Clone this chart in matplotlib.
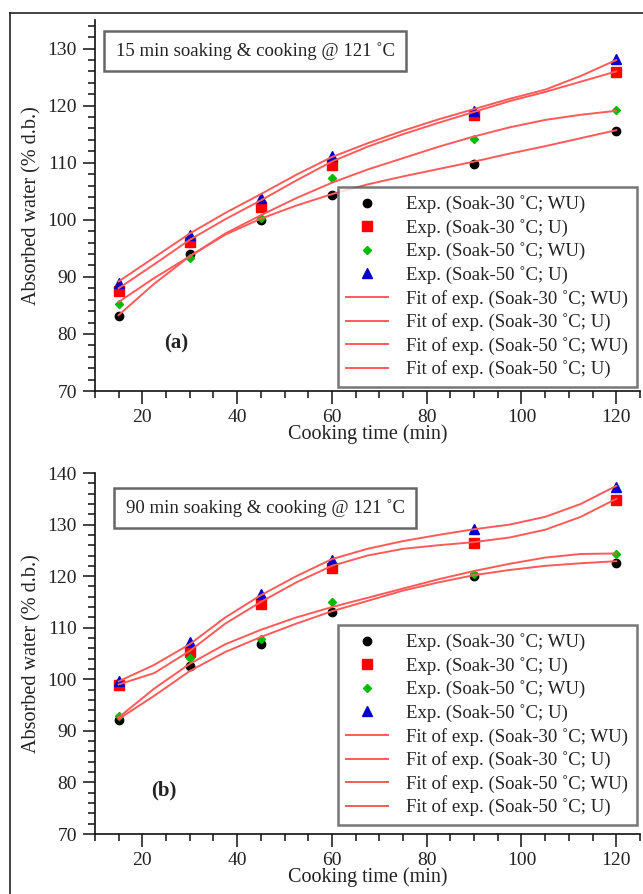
import matplotlib
matplotlib.use("Agg")
import matplotlib.pyplot as plt
from matplotlib.lines import Line2D
from matplotlib.ticker import MultipleLocator

plt.rcParams["font.family"] = ["Liberation Serif", "DejaVu Serif"]

# -------------------------
# datos experimentales
# -------------------------
t_exp = [15, 30, 45, 60, 90, 120]

# (a) 15 min remojo
a_wu30 = [83.1, 94.0, 100.0, 104.4, 109.8, 115.6]
a_u30 = [87.6, 96.1, 102.3, 109.6, 118.3, 125.9]
a_wu50 = [85.2, 93.3, 100.3, 107.4, 114.1, 119.2]
a_u50 = [88.9, 97.4, 103.8, 111.2, 119.1, 128.1]

# (b) 90 min remojo
b_wu30 = [92.1, 102.5, 106.9, 113.0, 120.0, 122.5]
b_u30 = [98.9, 105.3, 114.6, 121.6, 126.4, 134.8]
b_wu50 = [92.8, 104.1, 107.9, 115.0, 120.5, 124.3]
b_u50 = [99.7, 107.2, 116.5, 123.2, 129.1, 137.3]

# curvas de ajuste
t_fit = [15, 22.5, 30, 37.5, 45, 52.5, 60, 67.5, 75, 82.5, 90, 97.5, 105, 112.5, 120]

a_fit_wu30 = [83.3, 88.8, 93.6, 97.4, 100.2, 102.5, 104.5, 106.2, 107.6, 108.9, 110.2, 111.6, 112.9, 114.3, 115.7]
a_fit_u30 = [88.0, 92.2, 96.5, 100.1, 103.4, 106.9, 110.2, 112.8, 115.0, 117.0, 118.9, 120.8, 122.4, 124.2, 126.0]
a_fit_wu50 = [85.6, 89.8, 93.6, 97.6, 100.8, 103.8, 106.5, 108.8, 110.8, 112.8, 114.6, 116.2, 117.5, 118.4, 119.1]
a_fit_u50 = [89.2, 93.4, 97.6, 101.2, 104.5, 107.9, 111.0, 113.4, 115.6, 117.6, 119.4, 121.2, 122.8, 125.2, 128.0]

b_fit_wu30 = [92.3, 96.8, 101.6, 105.3, 108.2, 110.8, 113.2, 115.2, 117.2, 118.8, 120.2, 121.2, 122.0, 122.5, 122.9]
b_fit_u30 = [99.0, 101.2, 105.5, 110.8, 115.0, 118.8, 122.0, 124.0, 125.3, 126.0, 126.6, 127.5, 129.0, 131.5, 135.0]
b_fit_wu50 = [92.6, 98.2, 103.0, 106.8, 109.6, 112.0, 114.0, 115.8, 117.6, 119.4, 121.0, 122.4, 123.6, 124.3, 124.4]
b_fit_u50 = [99.6, 102.8, 106.8, 112.0, 116.3, 120.0, 123.3, 125.3, 126.8, 128.0, 129.1, 130.0, 131.5, 134.0, 137.5]

etiquetas = ["Soak-30 ˚C; WU", "Soak-30 ˚C; U", "Soak-50 ˚C; WU", "Soak-50 ˚C; U"]

ROJO_FIT = "#ff5a5a"
TXT = "#222222"


def panel(ax, exp, fits, ylim, titulo, letra, pos_titulo, pos_letra, leg_top):
    wu30, u30, wu50, u50 = exp
    ax.plot(t_exp, wu30, "o", color="black", ms=6, ls="none",
            label="Exp. (" + etiquetas[0] + ")", zorder=3)
    ax.plot(t_exp, u30, "s", color="#ff0000", ms=7, ls="none",
            label="Exp. (" + etiquetas[1] + ")", zorder=3)
    ax.plot(t_exp, wu50, "D", color="#00bb00", ms=4.5, ls="none",
            label="Exp. (" + etiquetas[2] + ")", zorder=3)
    ax.plot(t_exp, u50, "^", color="#0000cc", ms=6.5, ls="none",
            label="Exp. (" + etiquetas[3] + ")", zorder=3)
    for f, lab in zip(fits, etiquetas):
        ax.plot(t_fit, f, "-", color=ROJO_FIT, lw=1.4,
                label="Fit of exp. (" + lab + ")", zorder=4)

    ax.set_xlim(10, 125)
    ax.set_ylim(*ylim)
    ax.xaxis.set_major_locator(MultipleLocator(20))
    ax.xaxis.set_minor_locator(MultipleLocator(5))
    ax.yaxis.set_major_locator(MultipleLocator(10))
    ax.yaxis.set_minor_locator(MultipleLocator(2))
    ax.spines["top"].set_visible(False)
    ax.spines["right"].set_visible(False)
    for s in ("left", "bottom"):
        ax.spines[s].set_linewidth(1.2)
        ax.spines[s].set_color("#111111")
    ax.tick_params(which="major", direction="out", length=9, width=1.1,
                   labelsize=14, colors="#111111", labelcolor=TXT, pad=4)
    ax.tick_params(which="minor", direction="out", length=5, width=1.1,
                   colors="#111111")
    ax.set_xlabel("Cooking time (min)", fontsize=14.5, color=TXT, labelpad=-1)
    ax.set_ylabel("Absorbed water (% d.b.)", fontsize=14.5, color=TXT, labelpad=4)

    ax.text(pos_titulo[0], pos_titulo[1], titulo, fontsize=13.5, color=TXT,
            ha="center", va="center",
            bbox=dict(boxstyle="square,pad=0.6", fc="white", ec="#666666", lw=1.8))
    ax.text(pos_letra[0], pos_letra[1], letra, fontsize=15, fontweight="bold",
            color=TXT, ha="center", va="center")

    leg = ax.legend(loc="upper left", bbox_to_anchor=(0.446, leg_top),
                    fontsize=13.5, frameon=True, fancybox=False,
                    handlelength=2.2, handletextpad=1.0, labelspacing=0.3,
                    borderpad=0.45, borderaxespad=0, markerscale=1.0)
    leg.get_frame().set_edgecolor("#555555")
    leg.get_frame().set_linewidth(1.8)
    for txt in leg.get_texts():
        txt.set_color(TXT)


fig = plt.figure(figsize=(6.43, 8.94), dpi=100)
ax1 = fig.add_axes([0.1477, 0.5626, 0.8476, 0.4150])
ax2 = fig.add_axes([0.1477, 0.0671, 0.8476, 0.4038])

panel(ax1, (a_wu30, a_u30, a_wu50, a_u50),
      (a_fit_wu30, a_fit_u30, a_fit_wu50, a_fit_u50),
      (70, 135), "15 min soaking & cooking @ 121 ˚C", "(a)",
      (43.8, 129.6), (27.1, 78.4), 0.550)
panel(ax2, (b_wu30, b_u30, b_wu50, b_u50),
      (b_fit_wu30, b_fit_u30, b_fit_wu50, b_fit_u50),
      (70, 140), "90 min soaking & cooking @ 121 ˚C", "(b)",
      (45.9, 133.2), (24.6, 78.5), 0.579)

# marco exterior de la figura
fig.add_artist(Line2D([10 / 643, 1.0], [1 - 13 / 894, 1 - 13 / 894],
                      transform=fig.transFigure, color="#222222", lw=1.2))
fig.add_artist(Line2D([10 / 643, 10 / 643], [0, 1 - 13 / 894],
                      transform=fig.transFigure, color="#222222", lw=1.2))

fig.savefig("out.png", dpi=100)
